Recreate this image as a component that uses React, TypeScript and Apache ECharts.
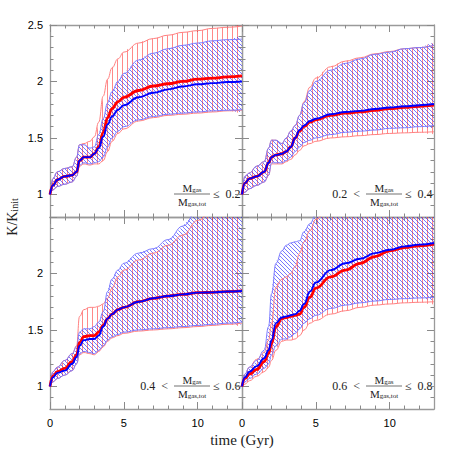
import React, { useEffect, useRef } from "react";
import * as echarts from "echarts";

// time samples (Gyr)
const T = [0, 0.2, 0.5, 1, 1.5, 1.8, 2, 2.3, 2.7, 3, 3.3, 3.6, 3.9, 4.2, 4.6, 5, 6, 7, 8, 9, 10, 11, 12, 13];

// Panel 1: Mgas/Mgas,tot <= 0.2
const redMed1 = [1.0, 1.08, 1.13, 1.16, 1.17, 1.20, 1.30, 1.33, 1.33, 1.36, 1.42, 1.55, 1.68, 1.76, 1.82, 1.86, 1.92, 1.96, 1.98, 2.00, 2.02, 2.03, 2.04, 2.05];
const blueMed1 = [1.0, 1.08, 1.13, 1.16, 1.17, 1.20, 1.30, 1.33, 1.33, 1.36, 1.41, 1.51, 1.62, 1.69, 1.75, 1.79, 1.86, 1.90, 1.93, 1.955, 1.975, 1.985, 1.995, 2.0];
const redUp1 = [1.0, 1.14, 1.20, 1.23, 1.245, 1.33, 1.44, 1.45, 1.47, 1.51, 1.64, 1.87, 2.02, 2.12, 2.20, 2.26, 2.34, 2.38, 2.41, 2.435, 2.45, 2.47, 2.48, 2.49];
const redLo1 = [1.0, 1.04, 1.07, 1.09, 1.11, 1.16, 1.25, 1.27, 1.26, 1.27, 1.27, 1.30, 1.38, 1.47, 1.54, 1.58, 1.65, 1.68, 1.70, 1.71, 1.72, 1.73, 1.74, 1.745];
const blueUp1 = [1.0, 1.14, 1.20, 1.23, 1.245, 1.33, 1.44, 1.44, 1.41, 1.42, 1.53, 1.67, 1.81, 1.91, 2.0, 2.07, 2.19, 2.25, 2.29, 2.32, 2.34, 2.36, 2.37, 2.375];
const blueLo1 = [1.0, 1.04, 1.07, 1.09, 1.11, 1.16, 1.26, 1.28, 1.27, 1.28, 1.29, 1.33, 1.42, 1.50, 1.56, 1.60, 1.66, 1.69, 1.71, 1.72, 1.73, 1.74, 1.745, 1.75];

// Panel 2: 0.2 < ... <= 0.4
const redMed2 = [1.0, 1.10, 1.14, 1.16, 1.20, 1.28, 1.33, 1.35, 1.36, 1.38, 1.42, 1.50, 1.56, 1.60, 1.64, 1.66, 1.70, 1.72, 1.73, 1.745, 1.76, 1.77, 1.78, 1.79];
const blueMed2 = [1.0, 1.10, 1.14, 1.16, 1.20, 1.28, 1.33, 1.35, 1.36, 1.38, 1.42, 1.50, 1.57, 1.61, 1.65, 1.67, 1.71, 1.73, 1.74, 1.756, 1.77, 1.78, 1.79, 1.80];
const redUp2 = [1.0, 1.16, 1.19, 1.25, 1.29, 1.41, 1.48, 1.48, 1.45, 1.50, 1.56, 1.61, 1.70, 1.82, 1.95, 2.03, 2.13, 2.18, 2.21, 2.245, 2.265, 2.29, 2.30, 2.32];
const redLo2 = [1.0, 1.02, 1.05, 1.08, 1.11, 1.17, 1.27, 1.27, 1.27, 1.29, 1.31, 1.35, 1.39, 1.43, 1.45, 1.47, 1.50, 1.51, 1.52, 1.53, 1.54, 1.545, 1.55, 1.555];
const blueUp2 = [1.0, 1.16, 1.19, 1.25, 1.29, 1.41, 1.48, 1.48, 1.45, 1.50, 1.56, 1.61, 1.70, 1.81, 1.92, 2.0, 2.10, 2.16, 2.20, 2.24, 2.26, 2.29, 2.30, 2.32];
const blueLo2 = [1.0, 1.02, 1.05, 1.08, 1.11, 1.17, 1.28, 1.28, 1.28, 1.30, 1.33, 1.38, 1.42, 1.46, 1.48, 1.50, 1.53, 1.55, 1.56, 1.57, 1.585, 1.59, 1.60, 1.61];

// Panel 3: 0.4 < ... <= 0.6
const redMed3 = [1.0, 1.09, 1.13, 1.16, 1.22, 1.28, 1.39, 1.44, 1.45, 1.45, 1.48, 1.54, 1.60, 1.64, 1.68, 1.70, 1.75, 1.78, 1.80, 1.815, 1.83, 1.833, 1.84, 1.845];
const blueMed3 = [1.0, 1.08, 1.12, 1.14, 1.20, 1.26, 1.36, 1.41, 1.42, 1.42, 1.45, 1.53, 1.60, 1.64, 1.68, 1.70, 1.75, 1.78, 1.80, 1.815, 1.83, 1.833, 1.84, 1.845];
const redUp3 = [1.0, 1.13, 1.17, 1.23, 1.29, 1.36, 1.62, 1.68, 1.70, 1.70, 1.71, 1.73, 1.78, 1.87, 1.97, 2.03, 2.12, 2.18, 2.25, 2.34, 2.47, 2.56, 2.64, 2.70];
const redLo3 = [1.0, 1.04, 1.07, 1.10, 1.14, 1.20, 1.28, 1.30, 1.29, 1.28, 1.31, 1.35, 1.40, 1.43, 1.45, 1.47, 1.49, 1.50, 1.51, 1.52, 1.53, 1.54, 1.55, 1.56];
const blueUp3 = [1.0, 1.13, 1.17, 1.23, 1.29, 1.35, 1.48, 1.51, 1.51, 1.53, 1.57, 1.66, 1.84, 1.95, 2.03, 2.09, 2.18, 2.22, 2.30, 2.42, 2.56, 2.65, 2.72, 2.78];
const blueLo3 = [1.0, 1.04, 1.07, 1.10, 1.14, 1.20, 1.29, 1.31, 1.30, 1.29, 1.32, 1.36, 1.41, 1.44, 1.46, 1.48, 1.50, 1.51, 1.52, 1.53, 1.54, 1.55, 1.56, 1.57];

// Panel 4: 0.6 < ... <= 0.8
const redMed4 = [1.0, 1.07, 1.11, 1.15, 1.22, 1.29, 1.38, 1.53, 1.60, 1.61, 1.62, 1.63, 1.64, 1.70, 1.79, 1.87, 1.97, 2.03, 2.09, 2.15, 2.20, 2.23, 2.245, 2.26];
const blueMed4 = [1.0, 1.08, 1.13, 1.18, 1.25, 1.32, 1.41, 1.56, 1.61, 1.62, 1.63, 1.64, 1.67, 1.73, 1.84, 1.92, 2.03, 2.09, 2.13, 2.18, 2.21, 2.24, 2.255, 2.27];
const redUp4 = [1.0, 1.11, 1.17, 1.24, 1.30, 1.41, 1.56, 1.88, 1.95, 1.97, 2.0, 2.06, 2.18, 2.28, 2.38, 2.48, 2.62, 2.72, 2.8, 2.85, 2.9, 2.95, 3.0, 3.0];
const redLo4 = [1.0, 1.02, 1.05, 1.09, 1.13, 1.17, 1.23, 1.32, 1.40, 1.41, 1.41, 1.42, 1.45, 1.50, 1.56, 1.585, 1.64, 1.67, 1.70, 1.72, 1.73, 1.74, 1.745, 1.75];
const blueUp4 = [1.0, 1.11, 1.17, 1.23, 1.32, 1.53, 1.82, 2.09, 2.20, 2.25, 2.27, 2.28, 2.29, 2.37, 2.44, 2.52, 2.65, 2.75, 2.85, 2.9, 2.95, 3.0, 3.0, 3.0];
const blueLo4 = [1.0, 1.04, 1.07, 1.11, 1.16, 1.20, 1.28, 1.36, 1.42, 1.42, 1.44, 1.47, 1.51, 1.56, 1.60, 1.63, 1.69, 1.72, 1.74, 1.756, 1.77, 1.777, 1.783, 1.79];

// Panel labels
const LOWER = ["", "0.2", "0.4", "0.6"];
const UPPER = ["0.2", "0.4", "0.6", "0.8"];

// Axis ticks / labels
const X_MAJOR = [0, 5, 10];
const X_MINOR = [1, 2, 3, 4, 6, 7, 8, 9, 11, 12];
const Y_MAJOR = [1, 1.5, 2, 2.5];
const Y_LABELS_TOP = [1, 1.5, 2, 2.5];
const Y_LABELS_BOTTOM = [1, 1.5, 2];
const Y_MINOR = [0.9, 1.1, 1.2, 1.3, 1.4, 1.6, 1.7, 1.8, 1.9, 2.1, 2.2, 2.3, 2.4];

const PANELS = [
  { med: [redMed1, blueMed1], red: [redLo1, redUp1], blue: [blueLo1, blueUp1] },
  { med: [redMed2, blueMed2], red: [redLo2, redUp2], blue: [blueLo2, blueUp2] },
  { med: [redMed3, blueMed3], red: [redLo3, redUp3], blue: [blueLo3, blueUp3] },
  { med: [redMed4, blueMed4], red: [redLo4, redUp4], blue: [blueLo4, blueUp4] },
];

const GRID_POS = [
  { left: 50, top: 25 },
  { left: 242, top: 25 },
  { left: 50, top: 217 },
  { left: 242, top: 217 },
];
const PW = 192;
const PH = 192;
const SMOOTH = 0.45;

const AX = "#9a9a9a";
const TK = "#8a8a8a";
const SERIF = "Liberation Serif";

function makeHatch(kind: string) {
  const c = document.createElement("canvas");
  if (kind === "v") {
    c.width = 5;
    c.height = 5;
    const ctx = c.getContext("2d")!;
    ctx.fillStyle = "rgba(255,40,40,0.55)";
    ctx.fillRect(2, 0, 1, 5);
  } else {
    c.width = 4;
    c.height = 4;
    const ctx = c.getContext("2d")!;
    ctx.fillStyle = "rgba(30,30,255,0.6)";
    for (let i = 0; i < 4; i++) ctx.fillRect(i, i, 1, 1);
  }
  return c;
}

function buildOption() {
  const redPat = makeHatch("v");
  const bluePat = makeHatch("d");
  const grid: any[] = [];
  const xAxis: any[] = [];
  const yAxis: any[] = [];
  const series: any[] = [];
  const graphic: any[] = [];

  PANELS.forEach((p, g) => {
    const pos = GRID_POS[g];
    grid.push({ left: pos.left, top: pos.top, width: PW, height: PH, containLabel: false });
    const isBottom = g >= 2;
    const isLeft = g % 2 === 0;
    const xBase = { type: "value", gridIndex: g, min: 0, max: 13, splitLine: { show: false } };
    const lineOn = { show: true, onZero: false, lineStyle: { color: AX, width: 1.3 } };
    const lineOff = { show: false, onZero: false };
    const majTick = (vals: number[]) => ({ show: true, inside: true, length: 7, customValues: vals, lineStyle: { color: TK, width: 1 } });
    const minTick = (vals: number[]) => ({ show: true, inside: true, length: 3.5, customValues: vals, lineStyle: { color: TK, width: 1 } });
    xAxis.push(
      { ...xBase, position: "bottom", axisLine: lineOn, axisTick: majTick(X_MAJOR),
        axisLabel: isBottom ? { show: true, customValues: X_MAJOR, margin: 8, color: "#000", fontSize: 11, fontFamily: "Liberation Sans" } : { show: false } },
      { ...xBase, position: "bottom", axisLine: lineOff, axisTick: minTick(X_MINOR), axisLabel: { show: false } },
      { ...xBase, position: "top", axisLine: lineOn, axisTick: majTick(X_MAJOR), axisLabel: { show: false } },
      { ...xBase, position: "top", axisLine: lineOff, axisTick: minTick(X_MINOR), axisLabel: { show: false } }
    );
    const yBase = { type: "value", gridIndex: g, min: 0.8, max: 2.5, splitLine: { show: false } };
    yAxis.push(
      { ...yBase, position: "left", axisLine: lineOn, axisTick: majTick(Y_MAJOR),
        axisLabel: isLeft ? { show: true, customValues: isBottom ? Y_LABELS_BOTTOM : Y_LABELS_TOP, margin: 7, color: "#000", fontSize: 11, fontFamily: "Liberation Sans" } : { show: false } },
      { ...yBase, position: "left", axisLine: lineOff, axisTick: minTick(Y_MINOR), axisLabel: { show: false } },
      { ...yBase, position: "right", axisLine: lineOn, axisTick: majTick(Y_MAJOR), axisLabel: { show: false } },
      { ...yBase, position: "right", axisLine: lineOff, axisTick: minTick(Y_MINOR), axisLabel: { show: false } }
    );
    const xi = g * 4;
    const yi = g * 4;
    const common = { type: "line", xAxisIndex: xi, yAxisIndex: yi, showSymbol: false, symbol: "none", smooth: SMOOTH, smoothMonotone: "x", clip: true, silent: true };

    const band = (lo: number[], up: number[], name: string, lineColor: string, pat: any) => {
      // hatched fill between lower and upper curves
      series.push({
        type: "custom", name: name + "band", coordinateSystem: "cartesian2d", xAxisIndex: xi, yAxisIndex: yi,
        clip: true, silent: true, data: [[0, 1]],
        renderItem: (params: any, api: any) => {
          const pts: number[][] = [];
          T.forEach((t, i) => pts.push(api.coord([t, up[i]])));
          for (let i = T.length - 1; i >= 0; i--) pts.push(api.coord([T[i], lo[i]]));
          return { type: "polygon", shape: { points: pts, smooth: SMOOTH }, style: { fill: { image: pat, repeat: "repeat" }, stroke: null } };
        },
      });
      series.push({ ...common, name: name + "lo", data: T.map((t, i) => [t, lo[i]]), lineStyle: { color: lineColor, width: 1 } });
      series.push({ ...common, name: name + "up", data: T.map((t, i) => [t, up[i]]), lineStyle: { color: lineColor, width: 1 } });
    };
    band(p.red[0], p.red[1], "red", "#ff8080", redPat);
    band(p.blue[0], p.blue[1], "blue", "#7a7aff", bluePat);
    series.push({ ...common, name: "redMed", data: T.map((t, i) => [t, p.med[0][i]]), lineStyle: { color: "#ff0000", width: 2.8 } });
    series.push({ ...common, name: "blueMed", data: T.map((t, i) => [t, p.med[1][i]]), lineStyle: { color: "#0000ff", width: 1.9 } });

    // annotation
    const x0 = pos.left;
    const y0 = pos.top;
    const ly = y0 + 169;
    const rich = {
      m: { fontSize: 11, fontFamily: SERIF, fill: "#222", verticalAlign: "bottom", lineHeight: 12 },
      s: { fontSize: 7, fontFamily: SERIF, fill: "#222", verticalAlign: "bottom", lineHeight: 9 },
    };
    if (LOWER[g]) {
      graphic.push({ type: "text", x: x0 + 118, y: ly, style: { text: LOWER[g] + "  <", fontSize: 12, fontFamily: SERIF, fill: "#222", align: "right", verticalAlign: "middle" } });
    }
    graphic.push({ type: "text", x: x0 + 142, y: ly - 1, style: { text: "{m|M}{s|gas}", rich, align: "center", verticalAlign: "bottom" } });
    graphic.push({ type: "line", shape: { x1: x0 + 124, y1: ly, x2: x0 + 160, y2: ly }, style: { stroke: "#333", lineWidth: 0.7 } });
    graphic.push({ type: "text", x: x0 + 142, y: ly + 1, style: { text: "{m|M}{s|gas,tot}", rich, align: "center", verticalAlign: "top" } });
    graphic.push({ type: "text", x: x0 + 163, y: ly, style: { text: "≤  " + UPPER[g], fontSize: 12, fontFamily: SERIF, fill: "#222", align: "left", verticalAlign: "middle" } });
  });

  graphic.push({
    type: "text", x: 12, y: 217, rotation: Math.PI / 2,
    style: {
      text: "{m|K/K}{s|init}", align: "center", verticalAlign: "middle",
      rich: {
        m: { fontSize: 14, fontFamily: SERIF, fill: "#222", verticalAlign: "bottom", lineHeight: 15 },
        s: { fontSize: 10, fontFamily: SERIF, fill: "#222", verticalAlign: "bottom", lineHeight: 12 },
      },
    },
  });
  graphic.push({
    type: "text", x: 242, y: 440,
    style: { text: "time (Gyr)", fontSize: 15, fontFamily: SERIF, fill: "#222", align: "center", verticalAlign: "middle" },
  });

  return { animation: false, backgroundColor: "#fff", grid, xAxis, yAxis, series, graphic };
}

export default function App() {
  const ref = useRef<HTMLDivElement>(null);
  useEffect(() => {
    if (!ref.current) return;
    const chart = echarts.init(ref.current, undefined, { renderer: "svg" });
    chart.setOption(buildOption() as any);
    return () => chart.dispose();
  }, []);
  return <div ref={ref} style={{ position: "absolute", left: 0, top: 0, width: 458, height: 458 }} />;
}
